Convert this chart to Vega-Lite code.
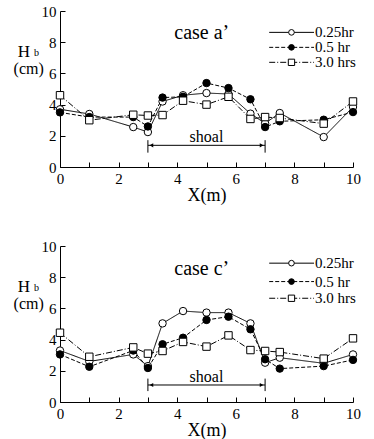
{
  "$schema": "https://vega.github.io/schema/vega-lite/v6.json",
  "autosize": {"type": "pad"},
  "padding": {"left": 13, "top": 4, "right": 0, "bottom": 0},
  "background": "white",
  "config": {
    "view": {"stroke": null},
    "font": "Liberation Serif",
    "axis": {
      "labelFont": "Liberation Serif", "labelFontSize": 15, "labelColor": "black",
      "titleFont": "Liberation Serif", "titleColor": "black", "titleFontWeight": "normal",
      "domainColor": "black", "tickColor": "black", "grid": false, "tickSize": -5, "tickWidth": 1
    }
  },
  "spacing": 79,
  "bounds": "flush",
  "vconcat": [
    {
      "width": 293, "height": 156,
      "data": {"values": [
        {"series": "0.25hr", "x": 0, "h": 3.7}, {"series": "0.25hr", "x": 1, "h": 3.4}, {"series": "0.25hr", "x": 2.5, "h": 2.56}, {"series": "0.25hr", "x": 3, "h": 2.24}, {"series": "0.25hr", "x": 3.5, "h": 4.2}, {"series": "0.25hr", "x": 4.2, "h": 4.6}, {"series": "0.25hr", "x": 5, "h": 4.74}, {"series": "0.25hr", "x": 5.75, "h": 4.68}, {"series": "0.25hr", "x": 6.5, "h": 3.42}, {"series": "0.25hr", "x": 7, "h": 2.8}, {"series": "0.25hr", "x": 7.5, "h": 3.46}, {"series": "0.25hr", "x": 9, "h": 1.92}, {"series": "0.25hr", "x": 10, "h": 3.85},
        {"series": "0.5 hr", "x": 0, "h": 3.5}, {"series": "0.5 hr", "x": 1, "h": 3.2}, {"series": "0.5 hr", "x": 2.5, "h": 3.2}, {"series": "0.5 hr", "x": 3, "h": 2.6}, {"series": "0.5 hr", "x": 3.5, "h": 4.45}, {"series": "0.5 hr", "x": 4.2, "h": 4.5}, {"series": "0.5 hr", "x": 5, "h": 5.38}, {"series": "0.5 hr", "x": 5.75, "h": 5.06}, {"series": "0.5 hr", "x": 6.5, "h": 4.34}, {"series": "0.5 hr", "x": 7, "h": 2.56}, {"series": "0.5 hr", "x": 7.5, "h": 2.93}, {"series": "0.5 hr", "x": 9, "h": 3.03}, {"series": "0.5 hr", "x": 10, "h": 3.52},
        {"series": "3.0 hrs", "x": 0, "h": 4.6}, {"series": "3.0 hrs", "x": 1, "h": 3.0}, {"series": "3.0 hrs", "x": 2.5, "h": 3.35}, {"series": "3.0 hrs", "x": 3, "h": 3.3}, {"series": "3.0 hrs", "x": 3.5, "h": 3.33}, {"series": "3.0 hrs", "x": 4.2, "h": 4.25}, {"series": "3.0 hrs", "x": 5, "h": 4.0}, {"series": "3.0 hrs", "x": 5.75, "h": 4.5}, {"series": "3.0 hrs", "x": 6.5, "h": 3.08}, {"series": "3.0 hrs", "x": 7, "h": 3.2}, {"series": "3.0 hrs", "x": 7.5, "h": 3.14}, {"series": "3.0 hrs", "x": 9, "h": 2.78}, {"series": "3.0 hrs", "x": 10, "h": 4.2}
      ]},
      "encoding": {
        "x": {"type": "quantitative", "scale": {"domain": [0, 10], "nice": false}, "axis": {"values": [0,1,2,3,4,5,6,7,8,9,10], "labelExpr": "datum.value % 2 === 0 ? datum.label : ''", "labelPadding": 9, "title": "X(m)", "titleFontSize": 18, "titlePadding": 0, "labelFlush": false}},
        "y": {"type": "quantitative", "scale": {"domain": [0, 10], "nice": false}, "axis": {"values": [0,2,4,6,8,10], "title": null, "labelPadding": 9}}
      },
      "layer": [
        {
          "mark": {"type": "line", "color": "black", "strokeWidth": 1},
          "encoding": {
            "x": {"field": "x", "type": "quantitative"},
            "y": {"field": "h", "type": "quantitative"},
            "strokeDash": {"field": "series", "type": "nominal", "scale": {"domain": ["0.25hr", "0.5 hr", "3.0 hrs"], "range": [[1, 0], [4, 2], [6, 2, 1, 2]]}, "legend": null}
          }
        },
        {
          "mark": {"type": "point", "stroke": "black", "strokeWidth": 1, "size": 55, "opacity": 1, "fillOpacity": 1},
          "encoding": {
            "x": {"field": "x", "type": "quantitative"},
            "y": {"field": "h", "type": "quantitative"},
            "fill": {"field": "series", "type": "nominal", "scale": {"domain": ["0.25hr", "0.5 hr", "3.0 hrs"], "range": ["white", "black", "white"]}, "legend": null},
            "shape": {"field": "series", "type": "nominal", "scale": {"domain": ["0.25hr", "0.5 hr", "3.0 hrs"], "range": ["circle", "circle", "square"]}, "legend": null}
          }
        },
        {"data": {"values": [{}]}, "mark": {"type": "rule", "color": "black", "strokeWidth": 1}, "encoding": {"x": {"datum": 7.14}, "x2": {"datum": 8.67}, "y": {"datum": 8.63}}},
        {"data": {"values": [{}]}, "mark": {"type": "rule", "color": "black", "strokeWidth": 1, "strokeDash": [4, 2]}, "encoding": {"x": {"datum": 7.14}, "x2": {"datum": 8.67}, "y": {"datum": 7.67}}},
        {"data": {"values": [{}]}, "mark": {"type": "rule", "color": "black", "strokeWidth": 1, "strokeDash": [6, 2, 1, 2]}, "encoding": {"x": {"datum": 7.14}, "x2": {"datum": 8.67}, "y": {"datum": 6.71}}},
        {"data": {"values": [{}]}, "mark": {"type": "point", "shape": "circle", "fill": "white", "stroke": "black", "strokeWidth": 1, "size": 32, "opacity": 1}, "encoding": {"x": {"datum": 7.9}, "y": {"datum": 8.63}}},
        {"data": {"values": [{}]}, "mark": {"type": "point", "shape": "circle", "fill": "black", "stroke": "black", "strokeWidth": 1, "size": 32, "opacity": 1}, "encoding": {"x": {"datum": 7.9}, "y": {"datum": 7.67}}},
        {"data": {"values": [{}]}, "mark": {"type": "point", "shape": "square", "fill": "white", "stroke": "black", "strokeWidth": 1, "size": 40, "opacity": 1}, "encoding": {"x": {"datum": 7.9}, "y": {"datum": 6.71}}},
        {"data": {"values": [{}]}, "mark": {"type": "text", "font": "Liberation Serif", "fontSize": 15, "baseline": "middle", "align": "left", "color": "black"}, "encoding": {"x": {"datum": 8.7}, "y": {"datum": 8.63}, "text": {"value": "0.25hr"}}},
        {"data": {"values": [{}]}, "mark": {"type": "text", "font": "Liberation Serif", "fontSize": 15, "baseline": "middle", "align": "left", "color": "black"}, "encoding": {"x": {"datum": 8.7}, "y": {"datum": 7.67}, "text": {"value": "0.5 hr"}}},
        {"data": {"values": [{}]}, "mark": {"type": "text", "font": "Liberation Serif", "fontSize": 15, "baseline": "middle", "align": "left", "color": "black"}, "encoding": {"x": {"datum": 8.7}, "y": {"datum": 6.71}, "text": {"value": "3.0 hrs"}}},
        {"data": {"values": [{}]}, "mark": {"type": "rule", "color": "black", "strokeWidth": 1}, "encoding": {"x": {"datum": 3}, "x2": {"datum": 7}, "y": {"datum": 1.39}}},
        {"data": {"values": [{}]}, "mark": {"type": "rule", "color": "black", "strokeWidth": 1}, "encoding": {"x": {"datum": 3}, "y": {"datum": 0.92}, "y2": {"datum": 1.72}}},
        {"data": {"values": [{}]}, "mark": {"type": "rule", "color": "black", "strokeWidth": 1}, "encoding": {"x": {"datum": 7}, "y": {"datum": 0.92}, "y2": {"datum": 1.72}}},
        {"data": {"values": [{}]}, "mark": {"type": "point", "shape": "triangle-left", "filled": true, "color": "black", "size": 18, "opacity": 1}, "encoding": {"x": {"datum": 3.12}, "y": {"datum": 1.39}}},
        {"data": {"values": [{}]}, "mark": {"type": "point", "shape": "triangle-right", "filled": true, "color": "black", "size": 18, "opacity": 1}, "encoding": {"x": {"datum": 6.88}, "y": {"datum": 1.39}}},
        {"data": {"values": [{}]}, "mark": {"type": "text", "font": "Liberation Serif", "fontSize": 16, "baseline": "middle", "align": "center", "color": "black"}, "encoding": {"x": {"datum": 5}, "y": {"datum": 1.9}, "text": {"value": "shoal"}}},
        {"data": {"values": [{}]}, "mark": {"type": "text", "font": "Liberation Serif", "fontSize": 20, "baseline": "middle", "align": "left", "color": "black"}, "encoding": {"x": {"datum": 3.9}, "y": {"datum": 8.6}, "text": {"value": "case a’"}}},
        {"data": {"values": [{}]}, "mark": {"type": "text", "font": "Liberation Serif", "fontSize": 17, "baseline": "middle", "align": "center", "color": "black"}, "encoding": {"x": {"datum": -1.23}, "y": {"datum": 7.4}, "text": {"value": "H"}}},
        {"data": {"values": [{}]}, "mark": {"type": "text", "font": "Liberation Serif", "fontSize": 10, "baseline": "middle", "align": "center", "color": "black"}, "encoding": {"x": {"datum": -0.8}, "y": {"datum": 7.3}, "text": {"value": "b"}}},
        {"data": {"values": [{}]}, "mark": {"type": "text", "font": "Liberation Serif", "fontSize": 16, "baseline": "middle", "align": "center", "color": "black"}, "encoding": {"x": {"datum": -1.07}, "y": {"datum": 6.3}, "text": {"value": "(cm)"}}}
      ]
    },
    {
      "width": 293, "height": 156,
      "data": {"values": [
        {"series": "0.25hr", "x": 0, "h": 3.3}, {"series": "0.25hr", "x": 1, "h": 2.6}, {"series": "0.25hr", "x": 2.5, "h": 3.05}, {"series": "0.25hr", "x": 3, "h": 2.3}, {"series": "0.25hr", "x": 3.5, "h": 5.04}, {"series": "0.25hr", "x": 4.2, "h": 5.83}, {"series": "0.25hr", "x": 5, "h": 5.73}, {"series": "0.25hr", "x": 5.75, "h": 5.73}, {"series": "0.25hr", "x": 6.5, "h": 5.04}, {"series": "0.25hr", "x": 7, "h": 2.52}, {"series": "0.25hr", "x": 7.5, "h": 2.84}, {"series": "0.25hr", "x": 9, "h": 2.48}, {"series": "0.25hr", "x": 10, "h": 3.05},
        {"series": "0.5 hr", "x": 0, "h": 3.05}, {"series": "0.5 hr", "x": 1, "h": 2.26}, {"series": "0.5 hr", "x": 2.5, "h": 3.3}, {"series": "0.5 hr", "x": 3, "h": 2.18}, {"series": "0.5 hr", "x": 3.5, "h": 3.7}, {"series": "0.5 hr", "x": 4.2, "h": 4.12}, {"series": "0.5 hr", "x": 5, "h": 5.26}, {"series": "0.5 hr", "x": 5.75, "h": 5.47}, {"series": "0.5 hr", "x": 6.5, "h": 4.66}, {"series": "0.5 hr", "x": 7, "h": 2.74}, {"series": "0.5 hr", "x": 7.5, "h": 2.14}, {"series": "0.5 hr", "x": 9, "h": 2.3}, {"series": "0.5 hr", "x": 10, "h": 2.7},
        {"series": "3.0 hrs", "x": 0, "h": 4.44}, {"series": "3.0 hrs", "x": 1, "h": 2.9}, {"series": "3.0 hrs", "x": 2.5, "h": 3.5}, {"series": "3.0 hrs", "x": 3, "h": 3.1}, {"series": "3.0 hrs", "x": 3.5, "h": 3.27}, {"series": "3.0 hrs", "x": 4.2, "h": 3.85}, {"series": "3.0 hrs", "x": 5, "h": 3.55}, {"series": "3.0 hrs", "x": 5.75, "h": 4.27}, {"series": "3.0 hrs", "x": 6.5, "h": 3.33}, {"series": "3.0 hrs", "x": 7, "h": 3.27}, {"series": "3.0 hrs", "x": 7.5, "h": 3.2}, {"series": "3.0 hrs", "x": 9, "h": 2.78}, {"series": "3.0 hrs", "x": 10, "h": 4.08}
      ]},
      "encoding": {
        "x": {"type": "quantitative", "scale": {"domain": [0, 10], "nice": false}, "axis": {"values": [0,1,2,3,4,5,6,7,8,9,10], "labelExpr": "datum.value % 2 === 0 ? datum.label : ''", "labelPadding": 9, "title": "X(m)", "titleFontSize": 18, "titlePadding": 0, "labelFlush": false}},
        "y": {"type": "quantitative", "scale": {"domain": [0, 10], "nice": false}, "axis": {"values": [0,2,4,6,8,10], "title": null, "labelPadding": 9}}
      },
      "layer": [
        {
          "mark": {"type": "line", "color": "black", "strokeWidth": 1},
          "encoding": {
            "x": {"field": "x", "type": "quantitative"},
            "y": {"field": "h", "type": "quantitative"},
            "strokeDash": {"field": "series", "type": "nominal", "scale": {"domain": ["0.25hr", "0.5 hr", "3.0 hrs"], "range": [[1, 0], [4, 2], [6, 2, 1, 2]]}, "legend": null}
          }
        },
        {
          "mark": {"type": "point", "stroke": "black", "strokeWidth": 1, "size": 55, "opacity": 1, "fillOpacity": 1},
          "encoding": {
            "x": {"field": "x", "type": "quantitative"},
            "y": {"field": "h", "type": "quantitative"},
            "fill": {"field": "series", "type": "nominal", "scale": {"domain": ["0.25hr", "0.5 hr", "3.0 hrs"], "range": ["white", "black", "white"]}, "legend": null},
            "shape": {"field": "series", "type": "nominal", "scale": {"domain": ["0.25hr", "0.5 hr", "3.0 hrs"], "range": ["circle", "circle", "square"]}, "legend": null}
          }
        },
        {"data": {"values": [{}]}, "mark": {"type": "rule", "color": "black", "strokeWidth": 1}, "encoding": {"x": {"datum": 7.14}, "x2": {"datum": 8.67}, "y": {"datum": 8.9}}},
        {"data": {"values": [{}]}, "mark": {"type": "rule", "color": "black", "strokeWidth": 1, "strokeDash": [4, 2]}, "encoding": {"x": {"datum": 7.14}, "x2": {"datum": 8.67}, "y": {"datum": 7.72}}},
        {"data": {"values": [{}]}, "mark": {"type": "rule", "color": "black", "strokeWidth": 1, "strokeDash": [6, 2, 1, 2]}, "encoding": {"x": {"datum": 7.14}, "x2": {"datum": 8.67}, "y": {"datum": 6.65}}},
        {"data": {"values": [{}]}, "mark": {"type": "point", "shape": "circle", "fill": "white", "stroke": "black", "strokeWidth": 1, "size": 32, "opacity": 1}, "encoding": {"x": {"datum": 7.9}, "y": {"datum": 8.9}}},
        {"data": {"values": [{}]}, "mark": {"type": "point", "shape": "circle", "fill": "black", "stroke": "black", "strokeWidth": 1, "size": 32, "opacity": 1}, "encoding": {"x": {"datum": 7.9}, "y": {"datum": 7.72}}},
        {"data": {"values": [{}]}, "mark": {"type": "point", "shape": "square", "fill": "white", "stroke": "black", "strokeWidth": 1, "size": 40, "opacity": 1}, "encoding": {"x": {"datum": 7.9}, "y": {"datum": 6.65}}},
        {"data": {"values": [{}]}, "mark": {"type": "text", "font": "Liberation Serif", "fontSize": 15, "baseline": "middle", "align": "left", "color": "black"}, "encoding": {"x": {"datum": 8.7}, "y": {"datum": 8.9}, "text": {"value": "0.25hr"}}},
        {"data": {"values": [{}]}, "mark": {"type": "text", "font": "Liberation Serif", "fontSize": 15, "baseline": "middle", "align": "left", "color": "black"}, "encoding": {"x": {"datum": 8.7}, "y": {"datum": 7.72}, "text": {"value": "0.5 hr"}}},
        {"data": {"values": [{}]}, "mark": {"type": "text", "font": "Liberation Serif", "fontSize": 15, "baseline": "middle", "align": "left", "color": "black"}, "encoding": {"x": {"datum": 8.7}, "y": {"datum": 6.65}, "text": {"value": "3.0 hrs"}}},
        {"data": {"values": [{}]}, "mark": {"type": "rule", "color": "black", "strokeWidth": 1}, "encoding": {"x": {"datum": 3}, "x2": {"datum": 7}, "y": {"datum": 1.09}}},
        {"data": {"values": [{}]}, "mark": {"type": "rule", "color": "black", "strokeWidth": 1}, "encoding": {"x": {"datum": 3}, "y": {"datum": 0.7}, "y2": {"datum": 1.5}}},
        {"data": {"values": [{}]}, "mark": {"type": "rule", "color": "black", "strokeWidth": 1}, "encoding": {"x": {"datum": 7}, "y": {"datum": 0.7}, "y2": {"datum": 1.5}}},
        {"data": {"values": [{}]}, "mark": {"type": "point", "shape": "triangle-left", "filled": true, "color": "black", "size": 18, "opacity": 1}, "encoding": {"x": {"datum": 3.12}, "y": {"datum": 1.09}}},
        {"data": {"values": [{}]}, "mark": {"type": "point", "shape": "triangle-right", "filled": true, "color": "black", "size": 18, "opacity": 1}, "encoding": {"x": {"datum": 6.88}, "y": {"datum": 1.09}}},
        {"data": {"values": [{}]}, "mark": {"type": "text", "font": "Liberation Serif", "fontSize": 16, "baseline": "middle", "align": "center", "color": "black"}, "encoding": {"x": {"datum": 5}, "y": {"datum": 1.58}, "text": {"value": "shoal"}}},
        {"data": {"values": [{}]}, "mark": {"type": "text", "font": "Liberation Serif", "fontSize": 20, "baseline": "middle", "align": "left", "color": "black"}, "encoding": {"x": {"datum": 3.9}, "y": {"datum": 8.5}, "text": {"value": "case c’"}}},
        {"data": {"values": [{}]}, "mark": {"type": "text", "font": "Liberation Serif", "fontSize": 17, "baseline": "middle", "align": "center", "color": "black"}, "encoding": {"x": {"datum": -1.23}, "y": {"datum": 7.4}, "text": {"value": "H"}}},
        {"data": {"values": [{}]}, "mark": {"type": "text", "font": "Liberation Serif", "fontSize": 10, "baseline": "middle", "align": "center", "color": "black"}, "encoding": {"x": {"datum": -0.8}, "y": {"datum": 7.3}, "text": {"value": "b"}}},
        {"data": {"values": [{}]}, "mark": {"type": "text", "font": "Liberation Serif", "fontSize": 16, "baseline": "middle", "align": "center", "color": "black"}, "encoding": {"x": {"datum": -1.07}, "y": {"datum": 6.3}, "text": {"value": "(cm)"}}}
      ]
    }
  ]
}
